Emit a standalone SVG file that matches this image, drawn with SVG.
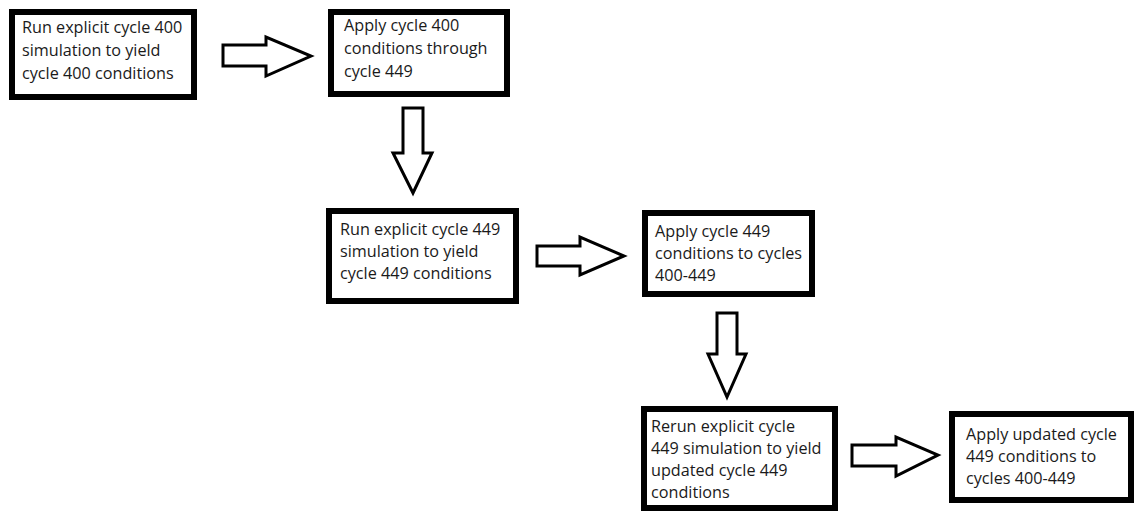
<svg xmlns="http://www.w3.org/2000/svg" width="1134" height="513" viewBox="0 0 1134 513">
<style>
.box{fill:#fff;stroke:#000;stroke-width:6}
.arr{fill:#fff;stroke:#000;stroke-width:3;stroke-linejoin:miter}
text{font-family:"Open Sans","Liberation Sans",sans-serif;font-size:16.2px;fill:#1a1a1a}
</style>
<rect width="1134" height="513" fill="#fff"/>
<g id="connectors">
<polygon class="arr" points="223,45 266,45 266,37 311,56 266,76 266,66 223,66"/>
<polygon class="arr" points="403,108 423,108 423,153 432,153 413,193 393,153 403,153"/>
<polygon class="arr" points="537,246 580,246 580,237 624,256 580,275 580,266 537,266"/>
<polygon class="arr" points="717,313 737,313 737,354 746,354 727,397 708,354 717,354"/>
<polygon class="arr" points="852,445 896,445 896,437 938,455 896,476 896,466 852,466"/>
</g>
<g id="n1"><rect class="box" x="12" y="12" width="182" height="85"/>
<text x="22" y="33">Run explicit cycle 400</text><text x="22" y="56">simulation to yield</text><text x="22" y="79">cycle 400 conditions</text></g>
<g id="n2"><rect class="box" x="331" y="12" width="176" height="82"/>
<text x="344" y="31">Apply cycle 400</text><text x="344" y="54">conditions through</text><text x="344" y="77">cycle 449</text></g>
<g id="n3"><rect class="box" x="329" y="211" width="187" height="90"/>
<text x="340" y="235">Run explicit cycle 449</text><text x="340" y="257">simulation to yield</text><text x="340" y="279">cycle 449 conditions</text></g>
<g id="n4"><rect class="box" x="645" y="213" width="167" height="81"/>
<text x="655" y="237">Apply cycle 449</text><text x="655" y="259">conditions to cycles</text><text x="655" y="281">400-449</text></g>
<g id="n5"><rect class="box" x="644" y="409" width="191" height="99"/>
<text x="651" y="432">Rerun explicit cycle</text><text x="651" y="454">449 simulation to yield</text><text x="651" y="476">updated cycle 449</text><text x="651" y="498">conditions</text></g>
<g id="n6"><rect class="box" x="952" y="414" width="179" height="86"/>
<text x="966" y="440">Apply updated cycle</text><text x="966" y="462">449 conditions to</text><text x="966" y="484">cycles 400-449</text></g>
</svg>
